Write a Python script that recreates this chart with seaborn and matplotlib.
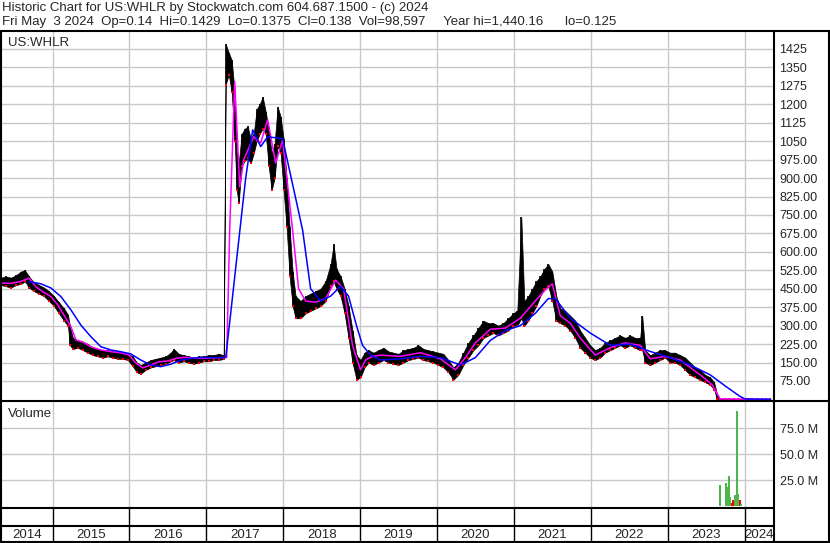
import numpy as np
import pandas as pd
import matplotlib
matplotlib.use("Agg")
import matplotlib.pyplot as plt
import seaborn as sns

# price bars: decimal year, low, high
bar_t = [2014.330, 2014.395, 2014.460, 2014.525, 2014.590, 2014.642, 2014.694, 2014.759,
         2014.824, 2014.888, 2014.953, 2015.018, 2015.083, 2015.148, 2015.200, 2015.226,
         2015.265, 2015.330, 2015.395, 2015.460, 2015.525, 2015.590, 2015.655, 2015.720,
         2015.785, 2015.849, 2015.914, 2015.979, 2016.044, 2016.096, 2016.148, 2016.213,
         2016.278, 2016.343, 2016.408, 2016.473, 2016.538, 2016.577, 2016.642, 2016.707,
         2016.772, 2016.836, 2016.901, 2016.966, 2017.031, 2017.096, 2017.161, 2017.226,
         2017.252, 2017.291, 2017.330, 2017.369, 2017.395, 2017.421, 2017.460, 2017.499,
         2017.538, 2017.577, 2017.616, 2017.655, 2017.694, 2017.733, 2017.772, 2017.811,
         2017.849, 2017.888, 2017.927, 2017.966, 2018.005, 2018.044, 2018.083, 2018.122,
         2018.161, 2018.226, 2018.291, 2018.356, 2018.421, 2018.486, 2018.551, 2018.616,
         2018.655, 2018.694, 2018.746, 2018.798, 2018.849, 2018.901, 2018.953, 2019.005,
         2019.057, 2019.109, 2019.174, 2019.239, 2019.304, 2019.369, 2019.434, 2019.499,
         2019.564, 2019.629, 2019.694, 2019.759, 2019.824, 2019.888, 2019.953, 2020.018,
         2020.083, 2020.148, 2020.213, 2020.278, 2020.343, 2020.408, 2020.473, 2020.538,
         2020.603, 2020.668, 2020.733, 2020.798, 2020.862, 2020.927, 2020.992, 2021.044,
         2021.096, 2021.135, 2021.187, 2021.239, 2021.291, 2021.343, 2021.395, 2021.447,
         2021.499, 2021.551, 2021.603, 2021.668, 2021.733, 2021.798, 2021.862, 2021.927,
         2021.992, 2022.057, 2022.122, 2022.187, 2022.252, 2022.317, 2022.382, 2022.447,
         2022.512, 2022.577, 2022.642, 2022.668, 2022.707, 2022.772, 2022.836, 2022.901,
         2022.966, 2023.031, 2023.096, 2023.161, 2023.226, 2023.291, 2023.356, 2023.421,
         2023.486, 2023.551, 2023.603, 2023.642, 2023.681, 2023.740, 2023.800, 2023.860,
         2023.920, 2023.980, 2024.040, 2024.100, 2024.160, 2024.220, 2024.280, 2024.336]
bar_lo = [465, 460, 455, 465, 470, 480, 455, 440, 430, 420, 400, 380, 350, 320, 300, 220,
          205, 210, 200, 190, 180, 175, 170, 175, 170, 165, 165, 160, 135, 110, 105, 120,
          130, 135, 140, 145, 155, 160, 150, 155, 150, 145, 150, 155, 155, 160, 160, 165,
          1280, 1320, 1250, 1050, 850, 800, 950, 970, 980, 960, 1000, 1050, 1080, 1100, 1080, 950,
          850, 900, 1030, 1000, 850, 700, 500, 380, 330, 330, 350, 360, 370, 380, 400, 460,
          480, 450, 420, 350, 250, 150, 80, 90, 130, 150, 140, 150, 160, 150, 145, 140,
          150, 160, 165, 170, 160, 155, 150, 140, 130, 110, 80, 100, 140, 170, 200, 220,
          250, 260, 270, 260, 270, 280, 300, 300, 330, 300, 320, 350, 380, 420, 450, 460,
          400, 320, 310, 300, 280, 250, 210, 190, 170, 160, 170, 190, 200, 210, 220, 210,
          220, 210, 200, 200, 150, 140, 150, 160, 170, 150, 150, 140, 120, 100, 90, 80,
          70, 60, 40, 0.2, 0.12, 0.12, 0.12, 0.12, 0.12, 0.12, 0.12, 0.12, 0.12, 0.12, 0.12, 0.13]
bar_hi = [495, 500, 495, 505, 520, 525, 500, 475, 465, 455, 440, 420, 395, 370, 345, 300,
          250, 240, 235, 225, 210, 205, 200, 200, 195, 195, 190, 185, 175, 150, 140, 150,
          160, 165, 170, 175, 190, 205, 185, 180, 175, 170, 175, 175, 180, 180, 185, 180,
          1445, 1410, 1380, 1250, 1000, 960, 1080, 1100, 1110, 1060, 1080, 1180, 1200, 1230, 1170, 1100,
          1000, 1040, 1190, 1150, 1060, 900, 700, 520, 420, 400, 420, 430, 440, 450, 480, 550,
          630, 530, 500, 450, 380, 280, 180, 160, 190, 200, 190, 200, 210, 195, 190, 185,
          200, 205, 210, 220, 205, 200, 195, 190, 185, 160, 130, 150, 190, 230, 260, 290,
          320, 310, 310, 300, 310, 330, 350, 360, 740, 400, 420, 450, 480, 500, 530, 550,
          520, 420, 370, 360, 340, 320, 280, 250, 220, 200, 210, 230, 240, 250, 260, 250,
          260, 250, 250, 340, 200, 180, 190, 200, 200, 190, 190, 180, 170, 150, 130, 120,
          100, 90, 70, 20, 0.6, 0.5, 0.5, 0.4, 0.4, 0.3, 0.3, 0.25, 0.2, 0.2, 0.16, 0.15]

# short moving average (magenta)
fast_t = [2014.330, 2014.460, 2014.590, 2014.694, 2014.785, 2014.888, 2014.979, 2015.070,
          2015.148, 2015.239, 2015.304, 2015.408, 2015.499, 2015.629, 2015.759, 2015.888,
          2015.992, 2016.083, 2016.174, 2016.278, 2016.382, 2016.499, 2016.603, 2016.707,
          2016.862, 2016.992, 2017.187, 2017.265, 2017.304, 2017.369, 2017.434, 2017.486,
          2017.616, 2017.707, 2017.798, 2017.901, 2017.992, 2018.122, 2018.200, 2018.291,
          2018.421, 2018.551, 2018.681, 2018.785, 2018.901, 2019.005, 2019.070, 2019.161,
          2019.265, 2019.525, 2019.785, 2020.044, 2020.239, 2020.369, 2020.499, 2020.694,
          2020.888, 2021.083, 2021.278, 2021.408, 2021.499, 2021.603, 2021.733, 2021.862,
          2022.057, 2022.252, 2022.447, 2022.642, 2022.772, 2022.966, 2023.161, 2023.421,
          2023.577, 2023.681, 2024.336]
fast_ma = [473, 472, 480, 493, 458, 435, 418, 384, 343, 296, 242, 231, 214, 201, 194, 189,
           181, 148, 128, 140, 153, 156, 167, 171, 167, 167, 170, 172, 689, 1292, 864, 974,
           1068, 1043, 1137, 961, 1055, 689, 450, 400, 395, 410, 485, 450, 220, 120, 160, 175,
           180, 175, 190, 165, 120, 170, 230, 285, 290, 330, 400, 445, 470, 340, 310, 250,
           180, 210, 230, 220, 165, 175, 160, 100, 60, 2, 0.14]

# long moving average (blue)
slow_t = [2014.694, 2014.849, 2014.979, 2015.109, 2015.239, 2015.369, 2015.499, 2015.629,
          2015.759, 2015.888, 2016.018, 2016.148, 2016.278, 2016.408, 2016.538, 2016.668,
          2016.798, 2016.927, 2017.252, 2017.317, 2017.408, 2017.512, 2017.603, 2017.707,
          2017.798, 2017.992, 2018.252, 2018.356, 2018.486, 2018.616, 2018.746, 2018.849,
          2018.953, 2019.031, 2019.135, 2019.265, 2019.525, 2019.785, 2020.044, 2020.304,
          2020.499, 2020.694, 2020.888, 2021.083, 2021.278, 2021.447, 2021.538, 2021.733,
          2021.992, 2022.252, 2022.512, 2022.772, 2023.031, 2023.291, 2023.551, 2023.746,
          2023.940, 2024.005, 2024.336]
slow_ma = [479, 470, 453, 418, 364, 302, 255, 214, 201, 194, 185, 160, 140, 133, 143, 160,
           167, 170, 170, 350, 608, 900, 1096, 1028, 1068, 1060, 689, 450, 400, 420, 460, 420,
           300, 220, 180, 160, 165, 175, 170, 140, 170, 240, 280, 300, 350, 410, 410, 330,
           270, 220, 225, 195, 170, 140, 100, 55, 12, 2, 0.15]

# volume bars visible at the end of 2023 (shares)
vol_t = [2023.612, 2023.681, 2023.759, 2023.772, 2023.797, 2023.810, 2023.836, 2023.849,
         2023.875, 2023.901, 2023.914, 2023.940, 2023.953, 2023.990, 2024.030, 2024.070]
vol = [0.5e6, 20e6, 22e6, 18e6, 29e6, 9e6, 3e6, 6e6, 10.6e6, 91e6, 11.5e6, 6e6, 2e6,
       0.4e6, 0.4e6, 0.3e6]
vol_up = [True, True, True, True, True, True, False, False, True, True, True, False, True,
          False, True, False]

price_ticks = list(range(75, 1426, 75))
vol_ticks = [25e6, 50e6, 75e6]
years = list(range(2014, 2025))

header1 = "Historic Chart for US:WHLR by Stockwatch.com 604.687.1500 - (c) 2024"
header2 = ("Fri May  3 2024  Op=0.14  Hi=0.1429  Lo=0.1375  Cl=0.138  Vol=98,597     "
           "Year hi=1,440.16      lo=0.125")

sns.set_style("white")
plt.rcParams["font.family"] = ["Liberation Sans", "DejaVu Sans"]

W, H = 830, 543
fig = plt.figure(figsize=(W / 100, H / 100), dpi=100)


def box(x0, y0, x1, y1):
    return [x0 / W, 1 - y1 / H, (x1 - x0) / W, (y1 - y0) / H]


t0, t1 = 2014.33, 2024.382
grid_c = "#c8c8c8"

ax = fig.add_axes(box(1, 31, 774, 401))
axv = fig.add_axes(box(1, 401, 774, 508))
axs = fig.add_axes(box(1, 508, 774, 526))
axy = fig.add_axes(box(1, 526, 774, 542))

for a in (ax, axv, axs, axy):
    a.set_xlim(t0, t1)
    for s in a.spines.values():
        s.set_visible(False)
    a.set_xticks(years[1:])
    a.tick_params(axis="x", length=0, labelbottom=False)

# price panel
ax.set_ylim(-6.5, 1498)
ax.set_yticks(price_ticks)
ax.set_yticklabels([f"{v:.0f}" if v >= 1000 else f"{v:.2f}" for v in price_ticks])
ax.yaxis.tick_right()
ax.tick_params(axis="y", length=0, pad=4, labelsize=9)
ax.grid(True, color=grid_c, lw=1)
ax.set_axisbelow(True)

ax.fill_between(bar_t, bar_lo, bar_hi, color="black", lw=0.5, zorder=2)
ax.vlines(bar_t, bar_lo, bar_hi, color="black", lw=1.2, zorder=2)
sns.scatterplot(x=bar_t, y=bar_lo, ax=ax, color="red", marker="s", s=3, lw=0, zorder=3)
sns.lineplot(x=fast_t, y=fast_ma, ax=ax, color="#ff00ff", lw=1.1, zorder=4)
sns.lineplot(x=slow_t, y=slow_ma, ax=ax, color="#0000ff", lw=1.1, zorder=4)
ax.text(0.009, 0.985, "US:WHLR", transform=ax.transAxes, ha="left", va="top", fontsize=9.5)

# volume panel
axv.set_ylim(-1.9e6, 101e6)
axv.set_yticks(vol_ticks)
axv.set_yticklabels([f"{v / 1e6:.1f} M" for v in vol_ticks])
axv.yaxis.tick_right()
axv.tick_params(axis="y", length=0, pad=4, labelsize=9)
axv.grid(True, color=grid_c, lw=1)
axv.set_axisbelow(True)
vol_colors = ["#4cb84c" if u else "#ff0000" for u in vol_up]
axv.bar(vol_t, vol, width=0.016, color=vol_colors, lw=0, zorder=3)
axv.text(0.009, 0.93, "Volume", transform=axv.transAxes, ha="left", va="top", fontsize=9.5)

# strips under the chart
for a in (axs, axy):
    a.set_yticks([])
    a.set_ylim(0, 1)
    for y in years[1:]:
        a.axvline(y, color="black", lw=1)
edges = [t0] + years[1:] + [t1]
for y, lo, hi in zip(years, edges[:-1], edges[1:]):
    axy.text((lo + hi) / 2, 0.45, str(y), ha="center", va="center", fontsize=9.5)

# frame lines of the chart (pixel layout)
frame = fig.add_axes([0, 0, 1, 1], facecolor="none")
frame.set_xlim(0, W)
frame.set_ylim(H, 0)
frame.axis("off")
lw = 1.5
for y, x0, x1 in [(31, 0, W), (401, 0, W), (508, 0, 774), (526, 0, 774), (542, 0, W)]:
    frame.plot([x0, x1], [y, y], color="black", lw=lw, solid_capstyle="butt")
for x in (1, 774, 829):
    frame.plot([x, x], [31, 543], color="black", lw=lw, solid_capstyle="butt")
frame.text(2, 2, header1, ha="left", va="top", fontsize=9.5)
frame.text(2, 16, header2, ha="left", va="top", fontsize=9.5)

fig.savefig("out.png", dpi=100)
